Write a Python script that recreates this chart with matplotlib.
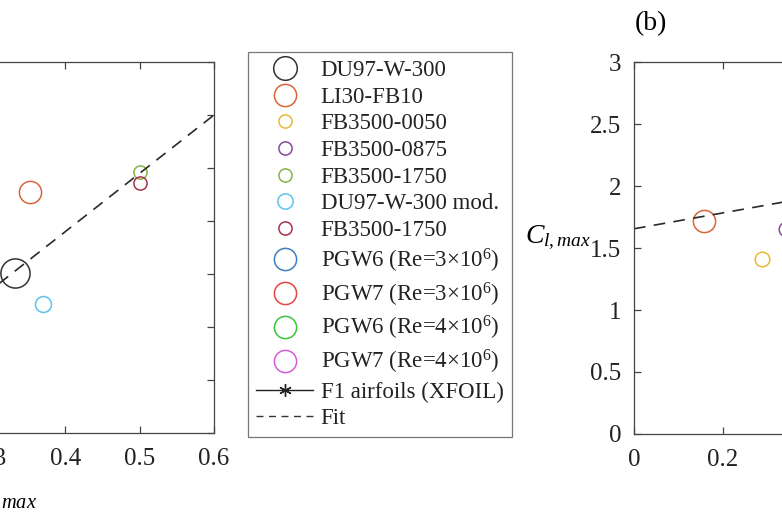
import matplotlib.pyplot as plt
from matplotlib.lines import Line2D

plt.rcParams['font.family'] = 'Liberation Serif'
plt.rcParams['mathtext.fontset'] = 'custom'
plt.rcParams['mathtext.rm'] = 'Liberation Serif'
plt.rcParams['mathtext.it'] = 'Liberation Serif:italic'

# colours (MATLAB-like, a bit faded)
c_du97 = '#333333'
c_li30 = '#D9653A'
c_fb0050 = '#E8B83A'
c_fb0875 = '#8A4A99'
c_fb1750 = '#86B34A'
c_du97mod = '#5CC3EE'
c_fb1750b = '#A33548'
c_pgw6_3 = '#3F7FBF'
c_pgw7_3 = '#E8463E'
c_pgw6_4 = '#3DC33D'
c_pgw7_4 = '#D65AD6'

# panel (a) points
a_du97 = (0.332, 1.51)
a_li30 = (0.352, 2.27)
a_du97mod = (0.370, 1.22)
a_fb1750 = (0.500, 2.46)
a_fb1750b = (0.500, 2.36)
fit_a_x = [0.30, 0.60]
fit_a_y = [1.35, 3.00]

# panel (b) points
b_li30 = (0.158, 1.72)
b_fb0050 = (0.288, 1.41)
b_fb0875 = (0.342, 1.65)
fit_b_x = [0.0, 0.6]
fit_b_y = [1.655, 2.04]

W, H = 782, 521
fig = plt.figure(figsize=(W / 100, H / 100), dpi=100)

ax_a = fig.add_axes([-232 / W, 1 - 433 / H, 446 / W, 371 / H])
ax_b = fig.add_axes([634 / W, 1 - 434 / H, 267 / W, 372 / H])

for ax in (ax_a, ax_b):
    ax.tick_params(direction='in', length=5, width=0.9, top=True, right=True,
                   labelsize=18, color='#444444', labelcolor='#222222')
    ax.tick_params(axis='x', pad=11)
    ax.tick_params(axis='y', pad=9)
    for s in ax.spines.values():
        s.set_color('#444444')
        s.set_linewidth(0.9)

def circ(ax, p, color, size):
    ax.plot([p[0]], [p[1]], 'o', mfc='none', mec=color, ms=size, mew=1.1)

circ(ax_a, a_du97, c_du97, 21)
circ(ax_a, a_li30, c_li30, 16)
circ(ax_a, a_du97mod, c_du97mod, 11.5)
circ(ax_a, a_fb1750, c_fb1750, 9.5)
circ(ax_a, a_fb1750b, c_fb1750b, 9.5)
ax_a.plot(fit_a_x, fit_a_y, '--', color='#2a2a2a', lw=1.2, dashes=(7, 5))
ax_a.set_xlim(0, 0.6)
ax_a.set_ylim(0, 3.5)
ax_a.set_xticks([0, 0.1, 0.2, 0.3, 0.4, 0.5, 0.6])
ax_a.set_xticklabels(['0', '0.1', '0.2', '0.3', '0.4', '0.5', '0.6'])
ax_a.set_yticks([0, 0.5, 1, 1.5, 2, 2.5, 3, 3.5])
ax_a.set_xlabel(r'$C_{l,max}$', fontsize=21)
ax_a.xaxis.set_label_coords(0.525, -0.135)

circ(ax_b, b_li30, c_li30, 16)
circ(ax_b, b_fb0050, c_fb0050, 10.5)
circ(ax_b, b_fb0875, c_fb0875, 10.5)
ax_b.plot(fit_b_x, fit_b_y, '--', color='#2a2a2a', lw=1.2, dashes=(7, 5))
ax_b.set_xlim(0, 0.6)
ax_b.set_ylim(0, 3)
ax_b.set_xticks([0, 0.2, 0.4, 0.6])
ax_b.set_xticklabels(['0', '0.2', '0.4', '0.6'])
ax_b.set_yticks([0, 0.5, 1, 1.5, 2, 2.5, 3])
ax_b.set_yticklabels(['0', '0.5', '1', '1.5', '2', '2.5', '3'])
ax_b.set_ylabel(r'$C_{l,max}$', fontsize=20, rotation=0)
ax_b.yaxis.set_label_coords(-0.285, 0.49)
fig.text(651 / W, 1 - 24 / H, '(b)', fontsize=20, ha='center', va='center')

# legend
leg_names = ['DU97-W-300', 'LI30-FB10', 'FB3500-0050', 'FB3500-0875', 'FB3500-1750',
             'DU97-W-300 mod.', 'FB3500-1750',
             r'PGW6 (Re=3$\times$10$^6$)', r'PGW7 (Re=3$\times$10$^6$)',
             r'PGW6 (Re=4$\times$10$^6$)', r'PGW7 (Re=4$\times$10$^6$)']
leg_colors = [c_du97, c_li30, c_fb0050, c_fb0875, c_fb1750, c_du97mod, c_fb1750b,
              c_pgw6_3, c_pgw7_3, c_pgw6_4, c_pgw7_4]
leg_sizes = [17, 16, 9.5, 9.5, 9.5, 11, 9.5, 16, 16, 16, 16]
handles = [Line2D([], [], ls='none', marker='o', mfc='none', mec=c, ms=s, mew=1.1)
           for c, s in zip(leg_colors, leg_sizes)]
handles.append(Line2D([], [], color='#222222', lw=1.0, marker=(6, 2, 0), ms=9, mew=1.0))
handles.append(Line2D([], [], color='#333333', lw=1.0, ls='--', dashes=(5, 4)))
labels = leg_names + ['F1 airfoils (XFOIL)', 'Fit']

leg = fig.legend(handles, labels, loc='upper left', bbox_to_anchor=(248 / W, 1 - 52 / H),
                 borderaxespad=0, fontsize=16.5, frameon=True, fancybox=False,
                 edgecolor='#555555', labelspacing=0.245, handlelength=2.5,
                 handletextpad=0.32, borderpad=0.35, labelcolor='#222222')
leg.get_frame().set_linewidth(0.9)

fig.savefig('out.png', dpi=100)
